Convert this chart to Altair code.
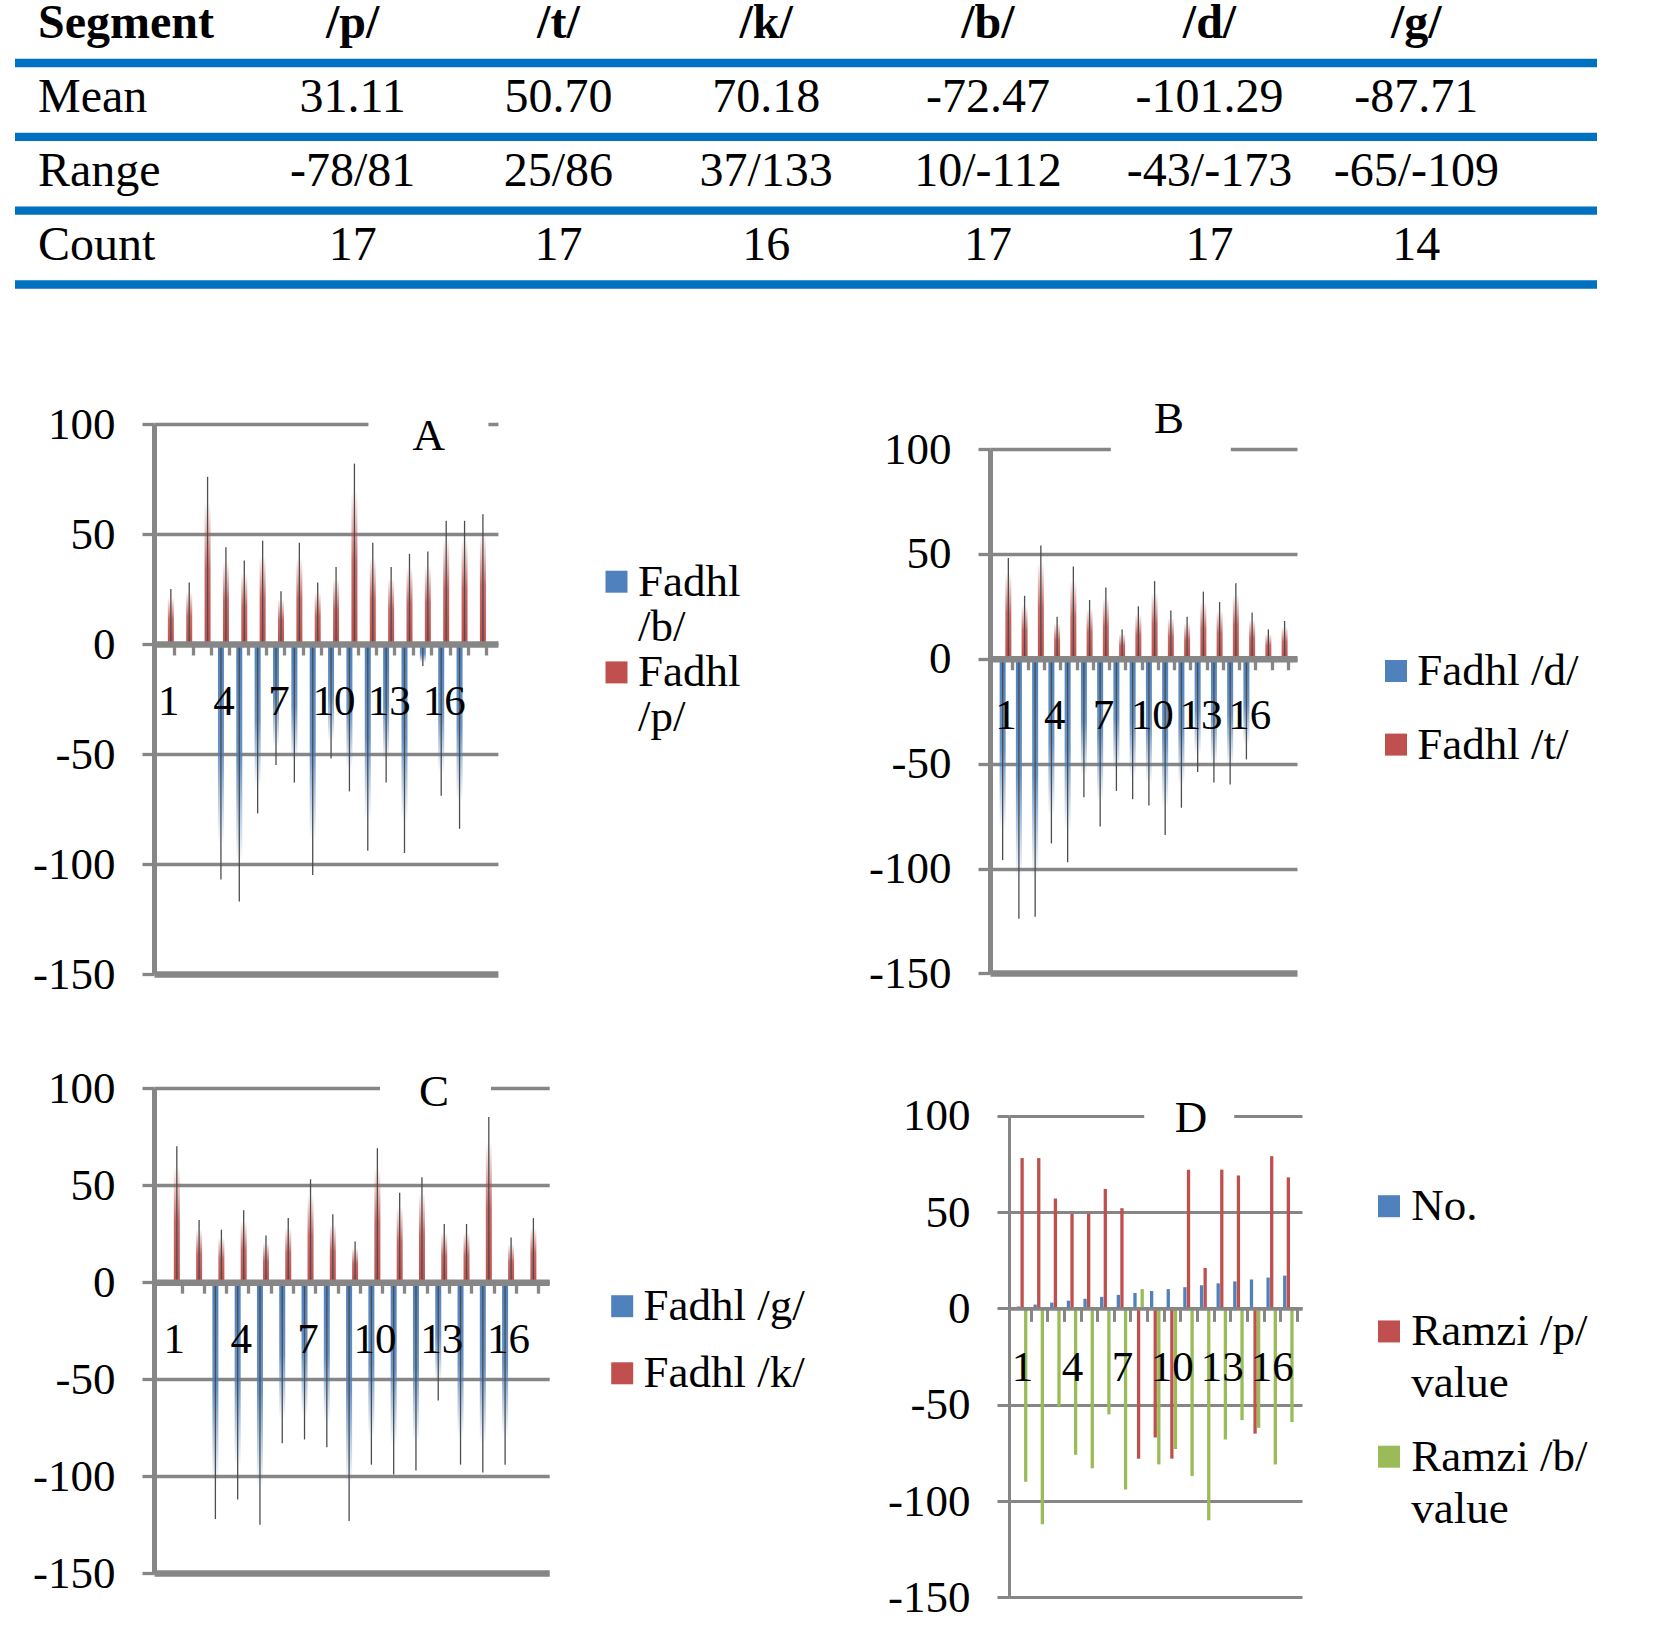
import altair as alt
import pandas as pd

FONT = "Liberation Serif"
GRID_GRAY = "#868686"
TIP_GRAY = "#4d4d4d"
RULE_BLUE = "#0070C0"
BLUE = "#4F81BD"
RED = "#C0504D"
GREEN = "#9BBB59"

# ---------------- summary table ----------------
segments = ["/p/", "/t/", "/k/", "/b/", "/d/", "/g/"]
row_labels = ["Segment", "Mean", "Range", "Count"]
mean_values = ["31.11", "50.70", "70.18", "-72.47", "-101.29", "-87.71"]
range_values = ["-78/81", "25/86", "37/133", "10/-112", "-43/-173", "-65/-109"]
count_values = [17, 17, 16, 17, 17, 14]

# ---------------- panel A : Fadhl /b/ vs /p/ ----------------
a_categories = list(range(1, 19))
a_fadhl_b = [None, None, None, -107, -117, -77, -55, -63, -105, -52, -67, -94, -63, -95, -10, -69, -84, None]
a_fadhl_p = [25, 28, 76, 44, 38, 47, 24, 46, 28, 35, 82, 46, 35, 41, 42, 56, 56, 59]

# ---------------- panel B : Fadhl /d/ vs /t/ ----------------
b_categories = list(range(1, 19))
b_fadhl_d = [-96, -124, -123, -88, -97, -66, -80, -63, -67, -70, -84, -71, -54, -59, -60, -48, None, None]
b_fadhl_t = [48, 30, 54, 20, 44, 28, 34, 14, 25, 37, 23, 20, 32, 27, 36, 22, 14, 18]

# ---------------- panel C : Fadhl /g/ vs /k/ ----------------
c_categories = list(range(1, 18))
c_fadhl_g = [None, None, -122, -112, -125, -83, -81, -85, -123, -94, -99, -97, -61, -94, -98, -94, None]
c_fadhl_k = [70, 32, 27, 37, 24, 33, 53, 35, 21, 69, 46, 54, 30, 30, 85, 23, 33]

# ---------------- panel D : Ramzi ----------------
d_categories = list(range(1, 18))
d_no = [1, 2, 3, 4, 5, 6, 7, 8, 9, 10, 11, 12, 13, 14, 15, 16, 17]
d_ramzi_p = [78, 78, 57, 49, 49, 62, 52, -78, -67, -78, 72, 21, 72, 69, -65, 79, 68]
d_ramzi_b = [-90, -112, -51, -76, -83, -55, -94, 10, -81, -73, -87, -110, -68, -58, -62, -81, -59]


def rgba(hex_color, alpha):
    h = hex_color.lstrip("#")
    r, g, b = int(h[0:2], 16), int(h[2:4], 16), int(h[4:6], 16)
    return f"rgba({r},{g},{b},{alpha})"


def spike_fill(hex_color, upward):
    """Colour strong at the base of a spike, fading out toward its tip."""
    y1, y2 = (1, 0) if upward else (0, 1)
    return alt.LinearGradient(
        gradient="linear", x1=0, x2=0, y1=y1, y2=y2,
        stops=[
            alt.GradientStop(offset=0, color=rgba(hex_color, 1)),
            alt.GradientStop(offset=0.45, color=rgba(hex_color, 0.85)),
            alt.GradientStop(offset=0.85, color=rgba(hex_color, 0)),
            alt.GradientStop(offset=1, color=rgba(hex_color, 0)),
        ],
    )


def series_frame(categories, series):
    records = []
    for name, values in series:
        for cat, value in zip(categories, values):
            if value is not None:
                records.append({"cat": cat, "value": value, "series": name})
    return pd.DataFrame(records)


def y_axis(grid_w, bottom_w, domain_w, top_dash, plain_dash, axis_len, shift=0):
    return alt.Axis(
        values=[-150, -100, -50, 0, 50, 100], title=None,
        labelExpr="'' + datum.value",
        labelFont=FONT, labelFontSize=45, labelColor="black", labelPadding=27,
        tickSize=12, tickWidth=grid_w, tickColor=GRID_GRAY,
        domainColor=GRID_GRAY, domainWidth=domain_w, domainDash=[axis_len, 2000],
        grid=True, gridColor=GRID_GRAY, gridOpacity=1,
        gridWidth={"condition": {"test": "datum.value === -150", "value": bottom_w}, "value": grid_w},
        gridDash={"condition": {"test": "datum.value === 100", "value": top_dash}, "value": plain_dash},
        offset=-shift,
    )


def x_axis(n, zero_offset, tick_off, zero_w, tick_w, tick_size, zero_dash):
    return alt.Axis(
        values=list(range(1, n + 1)), title=None,
        labelExpr="(datum.value - 1) % 3 === 0 ? '' + datum.value : ''",
        labelFont=FONT, labelFontSize=43, labelColor="black",
        labelBaseline="top", labelPadding=25,
        labelFlush=False, labelOverlap=False, labelBound=False,
        tickOffset=tick_off, labelOffset=-tick_off,
        tickSize=tick_size, tickWidth=tick_w, tickColor=GRID_GRAY,
        domainColor=GRID_GRAY, domainWidth=zero_w, domainDash=zero_dash,
        grid=False, offset=-zero_offset, zindex=1,
    )


def panel_letter(letter, dx, dy):
    # panel letter sitting in the break of the top gridline
    return alt.Chart(pd.DataFrame({"letter": [letter]})).mark_text(
        font=FONT, fontSize=45, color="black", align="center", baseline="middle"
    ).encode(x=alt.value(dx), y=alt.value(dy), text="letter:N")


def scales(categories, x_domain, y_top, plot_h, axis_h, tick_off, style, top_dash, shift=0):
    """Shared x/y encodings; the plot may reach above the 100 line (y_top) and left
    of the value axis (shift) so that panels line up with their neighbours."""
    grid_w, bottom_w, domain_w, zero_w, tick_w, tick_size = style
    plain_dash = [0, shift, 4000] if shift else []
    top = [0, shift] + top_dash if shift else top_dash
    zero_dash = [0, shift, 4000] if shift else []
    X = alt.X("cat:Q", scale=alt.Scale(domain=x_domain, nice=False, zero=False),
              axis=x_axis(len(categories), 0.6 * axis_h, tick_off, zero_w, tick_w, tick_size, zero_dash))
    Y = alt.Y("value:Q", stack=None,
              scale=alt.Scale(domain=[-150, y_top], nice=False, zero=False),
              axis=y_axis(grid_w, bottom_w, domain_w, top, plain_dash, axis_h, shift))
    return X, Y


SPIKE_STYLE = (3.3, 6.7, 5, 6.5, 3.3, 11)
COLUMN_STYLE = (3, 3, 3, 3.5, 3, 13)


def spike_panel(categories, series, width, plot_h, axis_h, y_top, x_domain, tick_off, letter, top_dash):
    df = series_frame(categories, [(s[0], s[1]) for s in series])
    X, Y = scales(categories, x_domain, y_top, plot_h, axis_h, tick_off, SPIKE_STYLE, top_dash)
    layers = []
    for name, _values, color, off in series:
        base = alt.Chart(df).transform_filter(alt.datum.series == name)
        layers.append(
            base.transform_filter("datum.value > 0")
            .mark_bar(orient="vertical", width=6, xOffset=off, color=spike_fill(color, True))
            .encode(x=X, y=Y)
        )
        layers.append(
            base.transform_filter("datum.value < 0")
            .mark_bar(orient="vertical", width=6, xOffset=off, color=spike_fill(color, False))
            .encode(x=X, y=Y)
        )
        layers.append(
            base.mark_rule(xOffset=off, strokeWidth=1.3, color=TIP_GRAY)
            .encode(x=X, y=Y, y2=alt.datum(0))
        )
    layers.append(letter)
    return alt.layer(*layers).properties(width=width, height=plot_h)


def column_panel(categories, series, width, plot_h, axis_h, y_top, x_domain, tick_off, letter, top_dash, shift):
    df = series_frame(categories, [(s[0], s[1]) for s in series])
    X, Y = scales(categories, x_domain, y_top, plot_h, axis_h, tick_off, COLUMN_STYLE, top_dash, shift)
    layers = []
    for name, _values, color, off in series:
        layers.append(
            alt.Chart(df).transform_filter(alt.datum.series == name)
            .mark_bar(orient="vertical", width=3.3, xOffset=off, color=color)
            .encode(x=X, y=Y)
        )
    layers.append(letter)
    return alt.layer(*layers).properties(width=width, height=plot_h)


def legend_panel(names, colors, width, ys, square_x, text_x, line_break=None, line_height=45, wrap_expr=None):
    df = pd.DataFrame({"series": names})
    Y = alt.Y("series:N", axis=None,
              scale=alt.Scale(type="point", domain=names, range=ys, padding=0))
    squares = alt.Chart(df).mark_square(size=484, opacity=1).encode(
        x=alt.value(square_x), y=Y,
        color=alt.Color("series:N", scale=alt.Scale(domain=names, range=colors), legend=None),
    )
    text_kw = dict(align="left", baseline="alphabetic", dy=14, font=FONT, fontSize=45,
                   color="black", lineHeight=line_height)
    if line_break is not None:
        text_kw["lineBreak"] = line_break
    texts = alt.Chart(df).transform_calculate(
        label=wrap_expr if wrap_expr else "datum.series"
    ).mark_text(**text_kw).encode(x=alt.value(text_x), y=Y, text="label:N")
    return alt.layer(squares, texts).properties(width=width, height=400)


def spacer(w, h):
    return alt.Chart(pd.DataFrame({"gap": [0]})).mark_point(opacity=0, size=1).encode(
        x=alt.value(20), y=alt.value(20)
    ).properties(width=w, height=h)


# ---------------- table ----------------
cells = pd.DataFrame([
    {"row": r, "col": segments.index(s), "text": str(v)}
    for r, vals in zip(row_labels, [segments, mean_values, range_values, count_values])
    for s, v in zip(segments, vals)
])
labels = pd.DataFrame({"row": row_labels})
# column centres of the six segment columns
tx = alt.X("col:Q", axis=None,
           scale=alt.Scale(domain=[0, 1, 2, 3, 4, 5],
                           range=[337.7, 543.4, 751.2, 972.9, 1194.5, 1401.3]))
ty = alt.Y("row:N", axis=None,
           scale=alt.Scale(type="point", domain=row_labels, range=[24, 245.5], padding=0))

# each blue rule sits just under its row of text
table_rules = alt.Chart(labels).mark_rule(color=RULE_BLUE, strokeWidth=8.3, yOffset=39).encode(y=ty)
head_cells = alt.Chart(cells).transform_filter(alt.datum.row == "Segment").mark_text(
    font=FONT, fontSize=48, fontWeight="bold", color="black").encode(x=tx, y=ty, text="text:N")
body_cells = alt.Chart(cells).transform_filter(alt.datum.row != "Segment").mark_text(
    font=FONT, fontSize=48, color="black").encode(x=tx, y=ty, text="text:N")
head_label = alt.Chart(labels).transform_filter(alt.datum.row == "Segment").mark_text(
    align="left", font=FONT, fontSize=48, fontWeight="bold", color="black"
).encode(x=alt.value(23), y=ty, text="row:N")
body_label = alt.Chart(labels).transform_filter(alt.datum.row != "Segment").mark_text(
    align="left", font=FONT, fontSize=48, color="black"
).encode(x=alt.value(23), y=ty, text="row:N")
table = alt.layer(table_rules, head_cells, body_cells, head_label, body_label).properties(
    width=1582, height=309.3)

# ---------------- panels ----------------
panel_a = spike_panel(
    a_categories,
    [("Fadhl /b/", a_fadhl_b, BLUE, -2.5), ("Fadhl /p/", a_fadhl_p, RED, 2.5)],
    343.9, 550, 550, 100, [0.49, 18.68], 5.8,
    panel_letter("A", 274.7, 11.7), [213.9, 120, 40, 0])
panel_b = spike_panel(
    b_categories,
    [("Fadhl /d/", b_fadhl_d, BLUE, -2.85), ("Fadhl /t/", b_fadhl_t, RED, 2.85)],
    307, 549.4, 524.4, 100 + 25 * 250 / 524.4, [0.354, 18.63], 6.2,
    panel_letter("B", 179, -5.5), [120.3, 120, 70, 0])
panel_c = spike_panel(
    c_categories,
    [("Fadhl /g/", c_fadhl_g, BLUE, -3), ("Fadhl /k/", c_fadhl_k, RED, 3)],
    395.2, 485.4, 485.4, 100, [0.335, 17.62], 7.7,
    panel_letter("C", 280, 4.4), [225.5, 111, 60, 0])
panel_d = column_panel(
    d_categories,
    [("No.", d_no, BLUE, -3.6), ("Ramzi /p/ value", d_ramzi_p, RED, 0),
     ("Ramzi /b/ value", d_ramzi_b, GREEN, 3.6)],
    312, 509.4, 481.7, 100 + 27.7 * 250 / 481.7, [0.476 - 19 / 17.19, 17.52], 8.5,
    panel_letter("D", 201, 30.2), [134.7, 90, 70, 0], 19)

legend_a = legend_panel(["Fadhl /b/", "Fadhl /p/"], [BLUE, RED], 440,
                        [157.7, 248.4], 66.5, 88, line_break=" ", line_height=45)
legend_b = legend_panel(["Fadhl /d/", "Fadhl /t/"], [BLUE, RED], 250,
                        [247, 320.6], 94, 115.3)
legend_c = legend_panel(["Fadhl /g/", "Fadhl /k/"], [BLUE, RED], 440,
                        [218.2, 285.3], 72.2, 93.5)
legend_d = legend_panel(["No.", "Ramzi /p/ value", "Ramzi /b/ value"], [BLUE, RED, GREEN], 250,
                        [118.2, 368.7], 87, 109.3, line_break="\n", line_height=52,
                        wrap_expr="replace(datum.series, ' value', '\\nvalue')")

grid = alt.concat(
    spacer(138.8, 1), panel_a, legend_a, panel_b, legend_b,
    spacer(138.8, 1), panel_c, legend_c, panel_d, legend_d,
    columns=5, spacing={"row": 114, "column": 0}, bounds="flush", align="each",
).resolve_scale(color="independent")

chart = alt.vconcat(table, grid, spacing=114, bounds="flush").resolve_scale(
    color="independent"
).properties(
    padding={"left": 10, "top": 0, "right": 0, "bottom": 0},
    background="white",
).configure_view(stroke=None)

chart.save("out.html", embed_options={"renderer": "svg", "actions": False})
